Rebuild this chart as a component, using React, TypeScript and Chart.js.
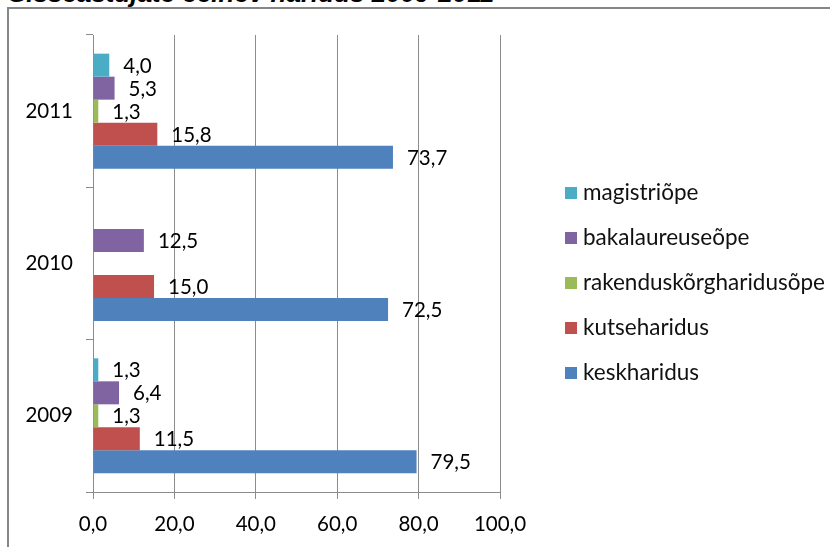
import React, { useEffect, useRef } from "react";
import { Chart, registerables } from "chart.js";

Chart.register(...registerables);

const titleText = "Sisseastujate eelnev haridus 2009-2011";
const categories = ["2011", "2010", "2009"];
const seriesNames = [
  "magistriõpe",
  "bakalaureuseõpe",
  "rakenduskõrgharidusõpe",
  "kutseharidus",
  "keskharidus",
];
const magistriope: (number | null)[] = [4.0, null, 1.3];
const bakalaureuseope: (number | null)[] = [5.3, 12.5, 6.4];
const rakenduskorgharidusope: (number | null)[] = [1.3, null, 1.3];
const kutseharidus: (number | null)[] = [15.8, 15.0, 11.5];
const keskharidus: (number | null)[] = [73.7, 72.5, 79.5];
const xMin = 0;
const xMax = 100;
const xStep = 20;

const seriesColors = ["#4BACC6", "#8064A2", "#9BBB59", "#C0504D", "#4F81BD"];
const FONT = "Lato, 'Open Sans', sans-serif";

const fmt = (v: number) => Number(v).toFixed(1).replace(".", ",");

const dataLabelPlugin = {
  id: "dataLabels",
  afterDatasetsDraw(chart: any) {
    const ctx = chart.ctx;
    ctx.save();
    ctx.font = `20.5px ${FONT}`;
    ctx.fillStyle = "#000";
    ctx.textAlign = "left";
    ctx.textBaseline = "middle";
    chart.data.datasets.forEach((ds: any, i: number) => {
      const meta = chart.getDatasetMeta(i);
      meta.data.forEach((el: any, j: number) => {
        const v = ds.data[j];
        if (v == null) return;
        ctx.fillText(fmt(v), el.x + 14, el.y + 1);
      });
    });
    ctx.restore();
  },
};

const legendPlugin = {
  id: "sideLegend",
  afterDraw(chart: any) {
    const ctx = chart.ctx;
    const area = chart.chartArea;
    ctx.save();
    ctx.font = `22.5px ${FONT}`;
    ctx.textAlign = "left";
    ctx.textBaseline = "middle";
    const boxX = area.right + 65;
    const startY = area.top + 158;
    const step = 45;
    chart.data.datasets.forEach((ds: any, i: number) => {
      const cy = startY + i * step;
      ctx.fillStyle = ds.backgroundColor;
      ctx.fillRect(boxX, cy - 6, 12, 12);
      ctx.fillStyle = "#111";
      ctx.fillText(ds.label, boxX + 18, cy);
    });
    ctx.restore();
  },
};

export default function App() {
  const canvasRef = useRef<HTMLCanvasElement | null>(null);

  useEffect(() => {
    if (!canvasRef.current) return;
    const seriesData = [
      magistriope,
      bakalaureuseope,
      rakenduskorgharidusope,
      kutseharidus,
      keskharidus,
    ];
    const chart = new Chart(canvasRef.current, {
      type: "bar",
      data: {
        labels: categories,
        datasets: seriesNames.map((name, i) => ({
          label: name,
          data: seriesData[i],
          backgroundColor: seriesColors[i],
          borderWidth: 0,
          categoryPercentage: 0.755,
          barPercentage: 1.0,
        })),
      },
      options: {
        indexAxis: "y",
        responsive: false,
        animation: false,
        devicePixelRatio: 1,
        layout: { padding: { top: 35, left: 0, right: 330, bottom: 0 } },
        plugins: {
          legend: { display: false },
          tooltip: { enabled: false },
          title: { display: false },
        },
        scales: {
          x: {
            min: xMin,
            max: xMax,
            ticks: {
              stepSize: xStep,
              callback: (v: any) => fmt(v),
              font: { family: FONT, size: 20.5 },
              color: "#000",
              padding: 13,
            },
            grid: { color: "#8c8c8c", tickLength: 7, lineWidth: 1 },
            border: { color: "#8c8c8c" },
            afterFit: (s: any) => {
              s.height = 55;
            },
          },
          y: {
            ticks: {
              font: { family: FONT, size: 20.5 },
              color: "#000",
              padding: 13,
            },
            grid: {
              offset: true,
              drawOnChartArea: false,
              tickLength: 7,
              color: "#8c8c8c",
            },
            border: { color: "#8c8c8c" },
            afterFit: (s: any) => {
              s.width = 93;
            },
          },
        },
      } as any,
      plugins: [dataLabelPlugin, legendPlugin],
    });
    return () => chart.destroy();
  }, []);

  return (
    <div
      style={{
        position: "absolute",
        top: 0,
        left: 0,
        width: 830,
        height: 547,
        overflow: "hidden",
        background: "#fff",
      }}
    >
      <div
        style={{
          position: "absolute",
          left: 9,
          top: -20,
          fontFamily: "'Liberation Sans', Arial, sans-serif",
          fontWeight: "bold",
          fontStyle: "italic",
          fontSize: 26,
          lineHeight: "26px",
          whiteSpace: "nowrap",
          color: "#000",
        }}
      >
        {titleText}
      </div>
      <div
        style={{
          position: "absolute",
          left: 7,
          top: 7,
          width: 840,
          height: 600,
          borderLeft: "2px solid #868686",
          borderTop: "2px solid #868686",
          boxSizing: "border-box",
        }}
      />
      <canvas
        ref={canvasRef}
        width={830}
        height={547}
        style={{ position: "absolute", top: 0, left: 0, width: 830, height: 547 }}
      />
    </div>
  );
}
